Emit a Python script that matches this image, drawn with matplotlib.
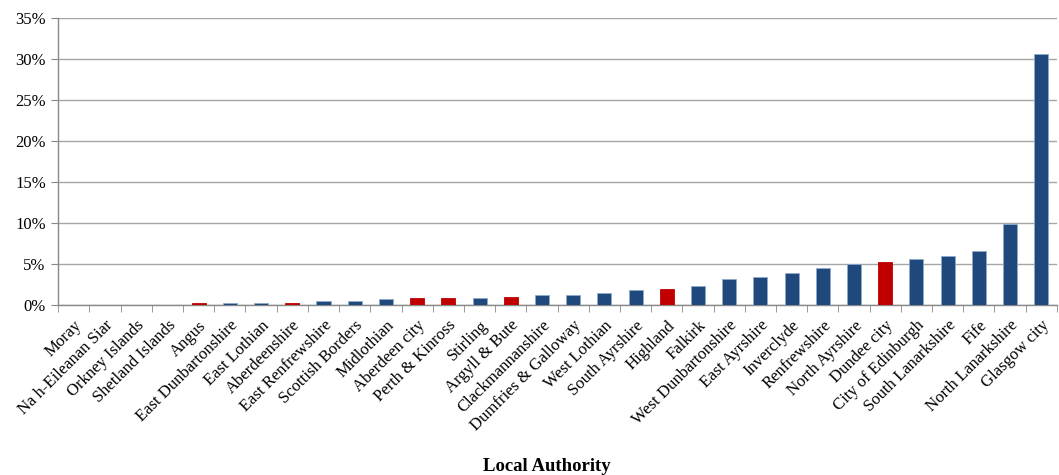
import matplotlib.pyplot as plt
import numpy as np
from matplotlib.ticker import PercentFormatter

areas = ["Moray", "Na h-Eileanan Siar", "Orkney Islands", "Shetland Islands", "Angus",
         "East Dunbartonshire", "East Lothian", "Aberdeenshire", "East Renfrewshire",
         "Scottish Borders", "Midlothian", "Aberdeen city", "Perth & Kinross", "Stirling",
         "Argyll & Bute", "Clackmannanshire", "Dumfries & Galloway", "West Lothian",
         "South Ayrshire", "Highland", "Falkirk", "West Dunbartonshire", "East Ayrshire",
         "Inverclyde", "Renfrewshire", "North Ayrshire", "Dundee city", "City of Edinburgh",
         "South Lanarkshire", "Fife", "North Lanarkshire", "Glasgow city"]
shares = [0.0, 0.0, 0.0, 0.0, 0.25, 0.2, 0.2, 0.25, 0.5, 0.5, 0.7, 0.9, 0.9, 0.8, 1.0,
          1.2, 1.2, 1.5, 1.8, 2.0, 2.3, 3.2, 3.4, 3.9, 4.5, 4.95, 5.25, 5.6, 5.95, 6.55,
          9.9, 30.6]
highlight = ["Angus", "Aberdeenshire", "Aberdeen city", "Perth & Kinross", "Argyll & Bute",
             "Highland", "Dundee city"]

plt.rcParams['font.family'] = ['Liberation Serif', 'DejaVu Serif']

fig = plt.figure(figsize=(10.59, 4.75), dpi=100)
ax = fig.add_axes([0.055, 0.358, 0.943, 0.604])

x = np.arange(len(areas))
cols = ["#C00000" if a in highlight else "#1F497D" for a in areas]
edges = ["#C00000" if a in highlight else "#8EA9CC" for a in areas]
ax.bar(x, shares, width=0.45, color=cols, edgecolor=edges, linewidth=0.6, zorder=3)

ax.set_ylim(0, 35)
ax.set_yticks(np.arange(0, 36, 5))
ax.yaxis.set_major_formatter(PercentFormatter(decimals=0))
ax.grid(axis="y", color="#A6A6A6", linewidth=1.0, zorder=0)
ax.set_xlim(-0.5, len(areas) - 0.5)

ax.set_xticks(x)
ax.set_xticklabels(areas, rotation=45, ha="right", rotation_mode="anchor", fontsize=12)
ax.set_xticks(np.arange(-0.5, len(areas), 1), minor=True)
ax.tick_params(axis="x", which="major", length=0, pad=9)
ax.tick_params(axis="x", which="minor", length=5, color="#888888", direction="out")
ax.tick_params(axis="y", length=5, color="#888888", labelsize=12, pad=4)

for s in ["top", "right"]:
    ax.spines[s].set_visible(False)
for s in ["left", "bottom"]:
    ax.spines[s].set_color("#888888")
    ax.spines[s].set_linewidth(1.0)

fig.text(0.516, 0.008, "Local Authority", ha="center", fontsize=13.5, fontweight="bold")

fig.savefig("out.png", dpi=100)
